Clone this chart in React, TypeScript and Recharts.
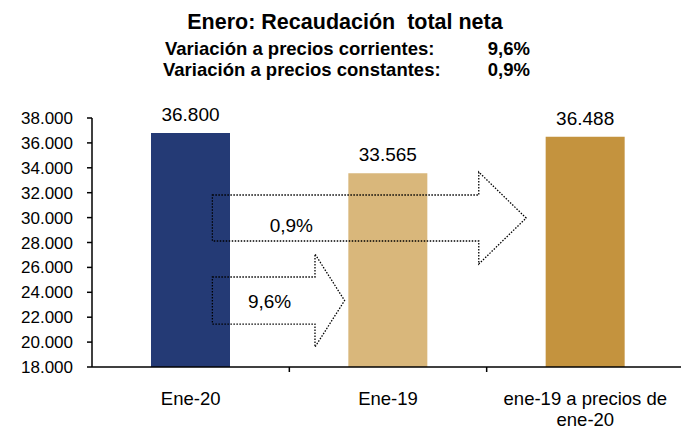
import { BarChart, Bar, XAxis, YAxis, Cell, LabelList, ReferenceArea } from "recharts";

const CATEGORIES = ["Ene-20", "Ene-19", "ene-19 a precios de\nene-20"];
const VALUES = [36800, 33565, 36488];
const BAR_COLORS = ["#243A75", "#D9B77B", "#C4933E"];
const Y_TICKS = [18000, 20000, 22000, 24000, 26000, 28000, 30000, 32000, 34000, 36000, 38000];

// arrows: x in category units (0..3 across the plot), y in axis values
const ARROW_LABELS = ["9,6%", "0,9%"];
const ARROW_START = [0.61, 0.61];
const ARROW_NECK = [1.13, 1.96];
const ARROW_TIP = [1.28, 2.2];
const ARROW_HEAD_BOTTOM = [19600, 26270];
const ARROW_HEAD_TOP = [27075, 33660];
const ARROW_SHAFT_BOTTOM = [21450, 28120];
const ARROW_SHAFT_TOP = [25230, 31815];
const ARROW_LABEL_X = [0.9, 1.01];
const ARROW_LABEL_Y = [23260, 29400];

const data = CATEGORIES.map((name, i) => ({ name, value: VALUES[i] }));

const FONT = "'Liberation Sans', Arial, sans-serif";
const N = CATEGORIES.length;

const fmt = (v: number) => String(v).replace(/\B(?=(\d{3})+(?!\d))/g, ".");

const CategoryTick = ({ x, y, payload }: any) => {
    const lines = String(payload.value).split("\n");
    return (
        <text x={x} y={y} textAnchor="middle" fontSize={18.5} fill="#000">
            {lines.map((l, i) => (
                <tspan key={i} x={x} dy={i === 0 ? "0.71em" : 21}>
                    {l}
                </tspan>
            ))}
        </text>
    );
};

// the area spans all categories; arrow x positions are fractions of it
const makeArrow = (i: number) => (props: any) => {
    const { x, y, width, height } = props;
    const px = (u: number) => x + (width * u) / N;
    const span = ARROW_HEAD_TOP[i] - ARROW_HEAD_BOTTOM[i];
    const py = (v: number) => y + (height * (ARROW_HEAD_TOP[i] - v)) / span;
    const x0 = px(ARROW_START[i]);
    const neck = px(ARROW_NECK[i]);
    const tip = px(ARROW_TIP[i]);
    const sTop = py(ARROW_SHAFT_TOP[i]);
    const sBot = py(ARROW_SHAFT_BOTTOM[i]);
    const pts = [
        [x0, sTop],
        [neck, sTop],
        [neck, y],
        [tip, y + height / 2],
        [neck, y + height],
        [neck, sBot],
        [x0, sBot],
    ];
    return (
        <g>
            <polygon
                points={pts.map((p) => p.join(",")).join(" ")}
                fill="none"
                stroke="#000"
                strokeWidth={1.3}
                strokeDasharray="1.5 1.5"
            />
            <text
                x={px(ARROW_LABEL_X[i])}
                y={py(ARROW_LABEL_Y[i])}
                textAnchor="middle"
                dominantBaseline="central"
                fontSize={19}
                fill="#000"
            >
                {ARROW_LABELS[i]}
            </text>
        </g>
    );
};

// tick marks between categories, below the x axis
const BoundaryTicks = (props: any) => {
    const { x, y, width, height } = props;
    const bottom = y + height;
    return (
        <g>
            {CATEGORIES.slice(1).map((c, k) => {
                const bx = x + (width * (k + 1)) / N;
                return <line key={c} x1={bx} x2={bx} y1={bottom} y2={bottom + 5} stroke="#000" strokeWidth={1.5} />;
            })}
        </g>
    );
};

export default function App() {
    return (
        <div
            style={{
                position: "absolute",
                left: 0,
                top: 0,
                width: 681,
                height: 429,
                overflow: "hidden",
                background: "#fff",
                fontFamily: FONT,
            }}
        >
            <svg width={681} height={90} style={{ position: "absolute", left: 0, top: 0 }}>
                <text x={345} y={29} textAnchor="middle" fontSize={21.5} fontWeight="bold" fill="#000">
                    Enero: Recaudación{"\u00a0"} total neta
                </text>
                <text x={165} y={55} fontSize={18.5} fontWeight="bold" fill="#000">
                    Variación a precios corrientes:
                </text>
                <text x={530} y={55} textAnchor="end" fontSize={18.5} fontWeight="bold" fill="#000">
                    9,6%
                </text>
                <text x={163} y={76} fontSize={18.5} fontWeight="bold" fill="#000">
                    Variación a precios constantes:
                </text>
                <text x={530} y={76} textAnchor="end" fontSize={18.5} fontWeight="bold" fill="#000">
                    0,9%
                </text>
            </svg>
            <BarChart width={684} height={429} data={data} margin={{ top: 118, right: 0, bottom: 0, left: 0 }}>
                <XAxis
                    dataKey="name"
                    height={62}
                    interval={0}
                    tickLine={false}
                    tickSize={0}
                    tickMargin={25}
                    axisLine={{ stroke: "#000", strokeWidth: 1.5 }}
                    tick={<CategoryTick />}
                />
                <YAxis
                    domain={[18000, 38000]}
                    ticks={Y_TICKS}
                    interval={0}
                    width={92}
                    tickFormatter={fmt}
                    tickSize={5}
                    tickMargin={14}
                    axisLine={{ stroke: "#000", strokeWidth: 1.5 }}
                    tickLine={{ stroke: "#000", strokeWidth: 1.5 }}
                    tick={{ fill: "#000", fontSize: 17 }}
                />
                <Bar dataKey="value" barSize={79} isAnimationActive={false}>
                    {data.map((d, i) => (
                        <Cell key={d.name} fill={BAR_COLORS[i]} />
                    ))}
                    <LabelList dataKey="value" position="top" offset={12} formatter={fmt} fill="#000" fontSize={19} />
                </Bar>
                <ReferenceArea
                    x1={CATEGORIES[0]}
                    x2={CATEGORIES[N - 1]}
                    y1={Y_TICKS[0]}
                    y2={Y_TICKS[Y_TICKS.length - 1]}
                    ifOverflow="visible"
                    zIndex={1000}
                    shape={BoundaryTicks}
                />
                {ARROW_LABELS.map((_, i) => (
                    <ReferenceArea
                        key={"a" + i}
                        x1={CATEGORIES[0]}
                        x2={CATEGORIES[N - 1]}
                        y1={ARROW_HEAD_BOTTOM[i]}
                        y2={ARROW_HEAD_TOP[i]}
                        ifOverflow="visible"
                        zIndex={1000}
                        shape={makeArrow(i)}
                    />
                ))}
            </BarChart>
        </div>
    );
}
